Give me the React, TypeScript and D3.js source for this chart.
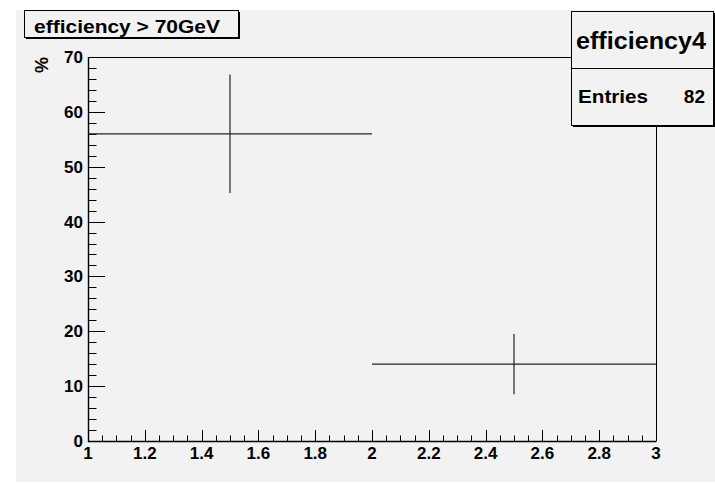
import React, { useEffect, useRef } from "react";
import * as d3 from "d3";

// Histogram bins: centre, half-width, content and error (in %)
const binCenters = [1.5, 2.5];
const binHalfWidths = [0.5, 0.5];
const binValues = [56, 14];
const binErrors = [10.8, 5.5];

const xTicks = [1, 1.2, 1.4, 1.6, 1.8, 2, 2.2, 2.4, 2.6, 2.8, 3];
const xTickLabels = ["1", "1.2", "1.4", "1.6", "1.8", "2", "2.2", "2.4", "2.6", "2.8", "3"];
const yTicks = [0, 10, 20, 30, 40, 50, 60, 70];

const titleText = "efficiency > 70GeV";
const statsName = "efficiency4";
const statsEntries = 82;
const yTitle = "%";

const W = 715;
const H = 483;
const FONT = "'Liberation Sans', Arial, Helvetica, sans-serif";

export default function App() {
  const ref = useRef<SVGSVGElement | null>(null);

  useEffect(() => {
    const svg = d3.select(ref.current);
    svg.selectAll("*").remove();

    const frame = { left: 88, right: 656, top: 57, bottom: 441 };
    const x = d3.scaleLinear().domain([1, 3]).range([frame.left, frame.right]);
    const y = d3.scaleLinear().domain([0, 70]).range([frame.bottom, frame.top]);

    // canvas
    svg.append("rect").attr("width", W).attr("height", H).attr("fill", "#ffffff");
    svg.append("rect").attr("x", 16).attr("y", 10).attr("width", W - 16).attr("height", 472).attr("fill", "#f2f2f2");

    // frame (top and right edges)
    svg.append("path")
      .attr("d", `M${frame.left},${frame.top + 0.5}H${frame.right + 0.5}V${frame.bottom}`)
      .attr("fill", "none").attr("stroke", "#000").attr("stroke-width", 1);

    // axes lines
    svg.append("path")
      .attr("d", `M${frame.left + 0.5},${frame.top}V${frame.bottom + 0.5}H${frame.right + 0.5}`)
      .attr("fill", "none").attr("stroke", "#000").attr("stroke-width", 1.4);

    // x ticks (major every 0.2, minor every 0.05), drawn inward
    const xMinor = d3.range(0, 41).map((i) => 1 + i * 0.05);
    const gx = svg.append("g");
    xMinor.forEach((v, i) => {
      const major = i % 4 === 0;
      const px = Math.round(x(v)) + 0.5;
      gx.append("line")
        .attr("x1", px).attr("x2", px)
        .attr("y1", frame.bottom).attr("y2", frame.bottom - (major ? 11 : 5.5))
        .attr("stroke", "#000").attr("stroke-width", 1);
    });
    xTicks.forEach((v, i) => {
      gx.append("text")
        .attr("x", x(v)).attr("y", 458.5)
        .attr("text-anchor", "middle")
        .attr("font-family", FONT).attr("font-weight", "bold").attr("font-size", 17)
        .attr("fill", "#000")
        .text(xTickLabels[i]);
    });

    // y ticks (major every 10, minor every 2), drawn inward
    const yMinor = d3.range(0, 36).map((i) => i * 2);
    const gy = svg.append("g");
    yMinor.forEach((v, i) => {
      const major = i % 5 === 0;
      const py = Math.round(y(v)) + 0.5;
      gy.append("line")
        .attr("x1", frame.left).attr("x2", frame.left + (major ? 17 : 8.5))
        .attr("y1", py).attr("y2", py)
        .attr("stroke", "#000").attr("stroke-width", 1);
    });
    yTicks.forEach((v) => {
      gy.append("text")
        .attr("x", 83).attr("y", y(v) + 6)
        .attr("text-anchor", "end")
        .attr("font-family", FONT).attr("font-weight", "bold").attr("font-size", 17)
        .attr("fill", "#000")
        .text(String(v));
    });

    // y-axis title
    svg.append("text")
      .attr("transform", `translate(47.5,${frame.top}) rotate(-90)`)
      .attr("text-anchor", "end")
      .attr("font-family", FONT).attr("font-weight", "bold").attr("font-size", 18)
      .attr("fill", "#000")
      .text(yTitle);

    // histogram bins with error bars
    const gd = svg.append("g").attr("stroke", "#222").attr("stroke-width", 1.2).attr("fill", "none");
    binCenters.forEach((c, i) => {
      const yv = y(binValues[i]);
      gd.append("line")
        .attr("x1", x(c - binHalfWidths[i])).attr("x2", x(c + binHalfWidths[i]))
        .attr("y1", yv).attr("y2", yv);
      gd.append("line")
        .attr("x1", x(c)).attr("x2", x(c))
        .attr("y1", y(binValues[i] + binErrors[i])).attr("y2", y(binValues[i] - binErrors[i]));
    });

    // title box with shadow
    const tb = { x: 24, y: 10, w: 214, h: 27 };
    svg.append("rect").attr("x", tb.x + 2).attr("y", tb.y + 2).attr("width", tb.w).attr("height", tb.h).attr("fill", "#000");
    svg.append("rect").attr("x", tb.x + 0.5).attr("y", tb.y + 0.5).attr("width", tb.w).attr("height", tb.h)
      .attr("fill", "#f2f2f2").attr("stroke", "#000").attr("stroke-width", 1);
    svg.append("text")
      .attr("x", 34).attr("y", 33)
      .attr("font-family", FONT).attr("font-weight", "bold").attr("font-size", 19)
      .attr("textLength", 186).attr("lengthAdjust", "spacingAndGlyphs")
      .attr("fill", "#000")
      .text(titleText);

    // statistics box with shadow
    const sb = { x: 571, y: 11, w: 142, h: 114 };
    svg.append("rect").attr("x", sb.x + 2).attr("y", sb.y + 2).attr("width", sb.w).attr("height", sb.h).attr("fill", "#000");
    svg.append("rect").attr("x", sb.x + 0.5).attr("y", sb.y + 0.5).attr("width", sb.w).attr("height", sb.h)
      .attr("fill", "#f2f2f2").attr("stroke", "#000").attr("stroke-width", 1);
    svg.append("line").attr("x1", sb.x).attr("x2", sb.x + sb.w).attr("y1", 68.5).attr("y2", 68.5)
      .attr("stroke", "#000").attr("stroke-width", 1);
    svg.append("text")
      .attr("x", 576).attr("y", 49)
      .attr("font-family", FONT).attr("font-weight", "bold").attr("font-size", 24)
      .attr("textLength", 130).attr("lengthAdjust", "spacingAndGlyphs")
      .attr("fill", "#000")
      .text(statsName);
    svg.append("text")
      .attr("x", 578).attr("y", 102.7)
      .attr("font-family", FONT).attr("font-weight", "bold").attr("font-size", 19)
      .attr("textLength", 70).attr("lengthAdjust", "spacingAndGlyphs")
      .attr("fill", "#000")
      .text("Entries");
    svg.append("text")
      .attr("x", 705).attr("y", 102.7)
      .attr("text-anchor", "end")
      .attr("font-family", FONT).attr("font-weight", "bold").attr("font-size", 19)
      .attr("fill", "#000")
      .text(String(statsEntries));
  }, []);

  return (
    <svg
      ref={ref}
      width={W}
      height={H}
      style={{ position: "absolute", left: 0, top: 0, display: "block" }}
    />
  );
}
